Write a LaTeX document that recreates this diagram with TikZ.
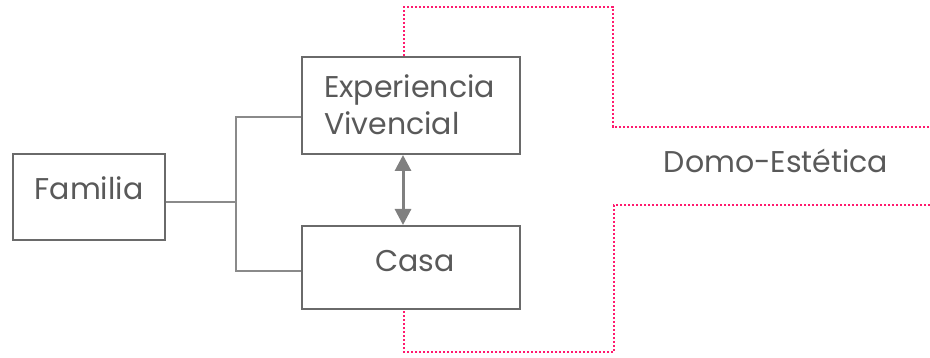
\documentclass[tikz,border=0pt]{standalone}
\usepackage{fontspec}
\setmainfont{Poppins}
\usetikzlibrary{arrows.meta}
\definecolor{txt}{HTML}{595959}
\definecolor{bx}{HTML}{6A6A6A}
\definecolor{ln}{HTML}{8A8A8A}
\definecolor{ar}{HTML}{808080}
\definecolor{pk}{HTML}{FF1A6E}
\begin{document}
\begin{tikzpicture}[x=1pt,y=-1pt,
  box/.style={draw=bx,line width=2pt,inner sep=0pt,text=txt,font=\fontsize{30}{37}\selectfont,anchor=north west},
  conn/.style={draw=ln,line width=1.5pt},
  dblarrow/.style={draw=ar,line width=3pt,{Triangle[length=16pt,width=16pt]}-{Triangle[length=16pt,width=16pt]}},
  pinkdot/.style={draw=pk,line width=2.4pt,dash pattern=on 2.2pt off 1.8pt}]
\useasboundingbox (0,0) rectangle (930,358);
\node[box,minimum width=152pt,text height=46pt,text depth=40pt] (fam) at (12,153) {Familia};
\node[box,minimum width=218pt,text height=41pt,text depth=56pt,align=left,text width=174pt] (exp) at (301,56) {Experiencia\\Vivencial};
\node[box,minimum width=218pt,text height=46pt,text depth=37pt] (casa) at (301,225) {\hspace*{8pt}Casa};
\node[text=txt,font=\fontsize{30}{37}\selectfont] (domo) at (776,161) {Domo-Estética};
\coordinate (j) at (236,202);
\coordinate (jt) at (236,117);
\coordinate (jb) at (236,271);
\draw[conn] (j -| fam.east) -- (j);
\draw[conn] (jt -| exp.west) -- (jt) -- (jb) -- (jb -| casa.west);
\coordinate (ax) at (403,0);
\draw[dblarrow] (exp.south -| ax) -- (casa.north -| ax);
\coordinate (p0) at (404,7);
\coordinate (p1) at (613,7);
\coordinate (p2) at (613,127);
\coordinate (p3) at (930,127);
\coordinate (q0) at (930,205);
\coordinate (q1) at (614,205);
\coordinate (q2) at (614,352);
\coordinate (q3) at (404,352);
\draw[pinkdot] (exp.north -| p0) -- (p0) -- (p1) -- (p2) -- (p3);
\draw[pinkdot] (q0) -- (q1) -- (q2) -- (q3) -- (casa.south -| q3);
\end{tikzpicture}
\end{document}
